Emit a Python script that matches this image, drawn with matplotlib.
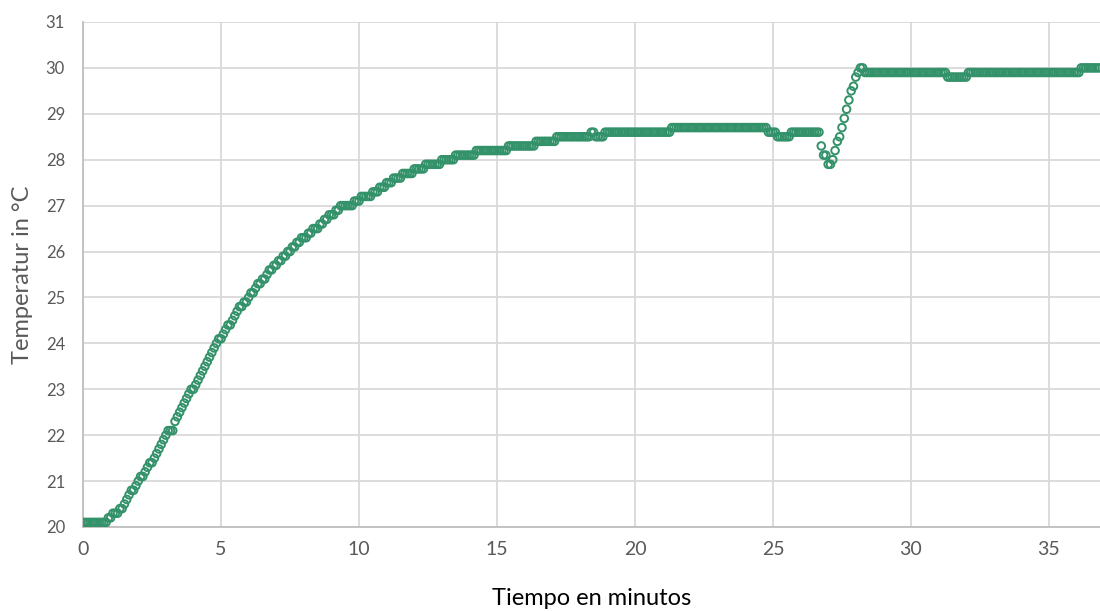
import numpy as np
import matplotlib
matplotlib.use("Agg")
import matplotlib.pyplot as plt
from matplotlib import rcParams

# logger readings, every 5 seconds, stored run-length:
# temperature level (degC) and how many consecutive readings stayed there
SAMPLE_SECONDS = 5
temp_levels = [
    20.1, 20.2, 20.3, 20.4, 20.5, 20.6, 20.7, 20.8, 20.9, 21.0,
    21.1, 21.2, 21.3, 21.4, 21.5, 21.6, 21.7, 21.8, 21.9, 22.0,
    22.1, 22.3, 22.4, 22.5, 22.6, 22.7, 22.8, 22.9, 23.0, 23.1,
    23.2, 23.3, 23.4, 23.5, 23.6, 23.7, 23.8, 23.9, 24.0, 24.1,
    24.2, 24.3, 24.4, 24.5, 24.6, 24.7, 24.8, 24.9, 25.0, 25.1,
    25.2, 25.3, 25.4, 25.5, 25.6, 25.7, 25.8, 25.9, 26.0, 26.1,
    26.2, 26.3, 26.4, 26.5, 26.6, 26.7, 26.8, 26.9, 27.0, 27.1,
    27.2, 27.3, 27.4, 27.5, 27.6, 27.7, 27.8, 27.9, 28.0, 28.1,
    28.2, 28.3, 28.4, 28.5, 28.6, 28.5, 28.6, 28.7, 28.6, 28.5,
    28.6, 28.3, 28.1, 27.9, 28.0, 28.2, 28.4, 28.5, 28.7, 28.9,
    29.1, 29.3, 29.5, 29.6, 29.8, 29.9, 30.0, 29.9, 29.8, 29.9,
    30.0,
]
n_readings = [
    11, 2, 3, 2, 1, 1, 1, 2, 1, 1,
    2, 1, 1, 2, 1, 1, 1, 1, 1, 1,
    3, 1, 1, 1, 1, 1, 1, 1, 2, 1,
    1, 1, 1, 1, 1, 1, 1, 1, 1, 2,
    1, 1, 2, 1, 1, 1, 2, 2, 1, 2,
    1, 2, 2, 1, 2, 2, 2, 2, 2, 2,
    2, 3, 2, 3, 2, 2, 3, 2, 6, 3,
    5, 3, 3, 3, 4, 5, 5, 7, 6, 9,
    14, 12, 9, 15, 2, 4, 29, 42, 4, 6,
    13, 1, 2, 2, 1, 1, 1, 1, 1, 1,
    1, 1, 1, 1, 1, 1, 2, 36, 9, 49,
    9,
]

x_ticks = [0, 5, 10, 15, 20, 25, 30, 35]
y_ticks = [20, 21, 22, 23, 24, 25, 26, 27, 28, 29, 30, 31]

temps = np.repeat(temp_levels, n_readings)
minutes = np.arange(len(temps)) * SAMPLE_SECONDS / 60

rcParams['font.family'] = 'Lato'

fig = plt.figure(figsize=(11, 6.11), dpi=100)
ax = fig.add_axes([0.0755, 0.1375, 0.9245, 0.8265])

ax.scatter(minutes, temps, s=30, facecolors='none', edgecolors='#33926a',
           linewidths=1.4, zorder=3)

ax.set_xlim(0, 36.85)
ax.set_ylim(20, 31)
ax.set_xticks(x_ticks)
ax.set_yticks(y_ticks)

ax.grid(True, color='#d9d9d9', linewidth=1.3)
ax.set_axisbelow(True)
for side in ['top', 'right']:
    ax.spines[side].set_visible(False)
for side in ['left', 'bottom']:
    ax.spines[side].set_color('#bfbfbf')
    ax.spines[side].set_linewidth(1.3)

ax.tick_params(axis='both', length=0)
ax.tick_params(axis='y', labelsize=12, labelcolor='#595959', pad=13)
ax.tick_params(axis='x', labelsize=14, labelcolor='#595959', pad=10)

ax.set_xlabel('Tiempo en minutos', fontsize=17, color='#000000', labelpad=22)
ax.set_ylabel('Temperatur in °C', fontsize=17, color='#595959', labelpad=9)

fig.savefig('out.png', dpi=100)
